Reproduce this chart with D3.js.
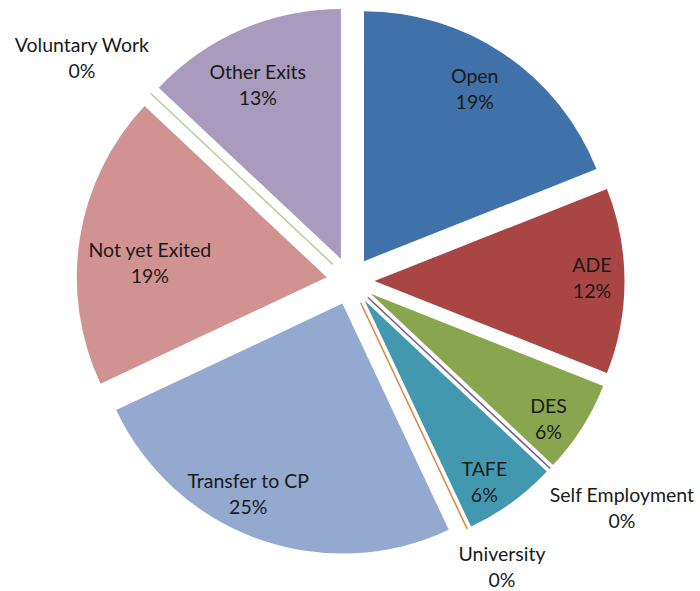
<!DOCTYPE html>
<html>
<head>
<meta charset="utf-8">
<script src="https://cdn.jsdelivr.net/npm/d3@7"></script>
<style>
  body { margin: 0; background: #fff; }
  svg text { font-family: Lato, "Open Sans", sans-serif; font-size: 19.5px; fill: #1a1a1a; }
</style>
</head>
<body>
<svg id="chart" width="700" height="591"></svg>
<script>
// data
const categories = ["Open", "ADE", "DES", "Self Employment", "TAFE", "University",
  "Transfer to CP", "Not yet Exited", "Voluntary Work", "Other Exits"];
const values = [19, 12, 6, 0, 6, 0, 25, 19, 0, 13];
const colors = ["#4171a9", "#a94543", "#89a54e", "#71588f", "#4198af", "#db843d",
  "#93a9cf", "#d19392", "#b9cd96", "#a99bbd"];

// label placement: radius (x r) and angle shift (deg) from the slice middle
const labelPos = [
  {r: 0.82, da: -1.5}, {r: 0.87, da: -0.7}, {r: 0.87, da: 2.8}, {r: 1.32, da: -3.5},
  {r: 0.87, da: 2.6}, {r: 1.2, da: -2.9}, {r: 0.85, da: 6.5}, {r: 0.71, da: -4.5},
  {r: 1.3, da: -3.8}, {r: 0.77, da: -2.2}
];

const svg = d3.select('#chart');
const cx = 350.5, cy = 281;
const radius = 250;
const explode = 24;
const total = d3.sum(values);

const pie = d3.pie().sort(null).value((d) => d);
const arcs = pie(values);
const arc = d3.arc().innerRadius(0).outerRadius(radius);

const g = svg.append('g').attr('transform', `translate(${cx},${cy})`);

function polar(angle, dist) {
  return [Math.sin(angle) * dist, -Math.cos(angle) * dist];
}

const slices = g.selectAll('g.slice')
  .data(arcs)
  .join('g')
  .attr('class', 'slice')
  .attr('transform', (d) => {
    const mid = (d.startAngle + d.endAngle) / 2;
    const [dx, dy] = polar(mid, explode);
    return `translate(${dx},${dy})`;
  });

// normal slices
slices.filter((d) => d.value > 0)
  .append('path')
  .attr('d', arc)
  .attr('fill', (d) => colors[d.index]);

// zero slices show as a thin line
slices.filter((d) => d.value === 0)
  .append('line')
  .attr('x1', 0).attr('y1', 0)
  .attr('x2', (d) => polar(d.startAngle, radius)[0])
  .attr('y2', (d) => polar(d.startAngle, radius)[1])
  .attr('stroke', (d) => colors[d.index])
  .attr('stroke-width', 1.5);

// labels
const labels = slices.append('text')
  .attr('text-anchor', 'middle')
  .attr('transform', (d) => {
    const lp = labelPos[d.index];
    const mid = (d.startAngle + d.endAngle) / 2 + lp.da * Math.PI / 180;
    const [x, y] = polar(mid, lp.r * radius);
    return `translate(${x},${y})`;
  });

labels.append('tspan')
  .attr('x', 0).attr('y', -6)
  .text((d) => categories[d.index]);

labels.append('tspan')
  .attr('x', 0).attr('y', 20)
  .text((d) => Math.round(d.value / total * 100) + '%');
</script>
</body>
</html>
